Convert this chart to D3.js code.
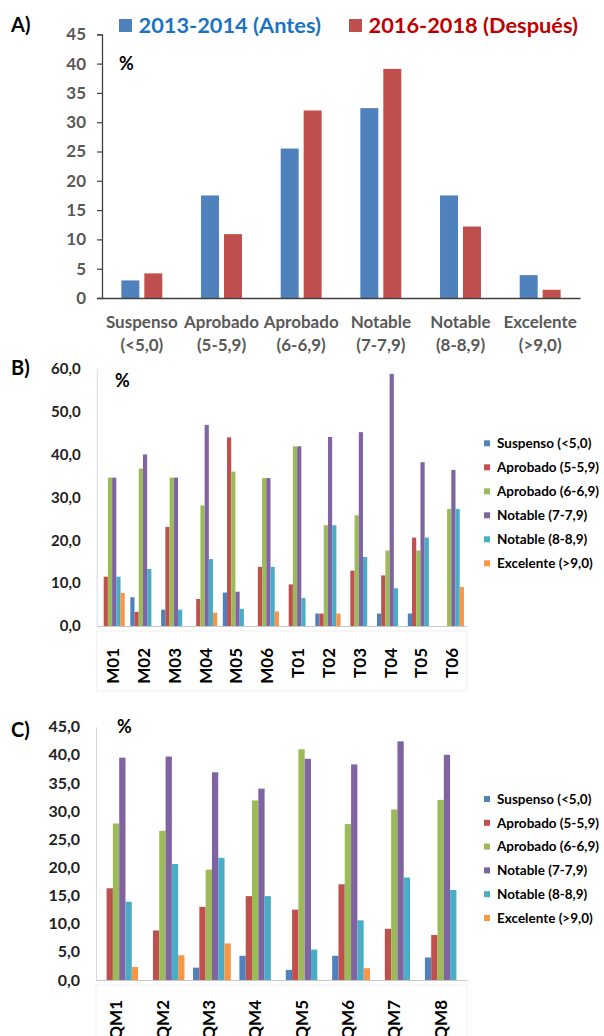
<!DOCTYPE html>
<html><head><meta charset="utf-8">
<script src="https://cdn.jsdelivr.net/npm/d3@7"></script>
<style>
html,body{margin:0;padding:0;background:#fff;}
svg{display:block;font-family:Lato,"Open Sans",sans-serif;font-weight:bold;}
</style></head>
<body>
<svg id="c" width="604" height="1036"></svg>
<script>
// ---------- DATA ----------
const catsA = ["Suspenso (<5,0)","Aprobado (5-5,9)","Aprobado (6-6,9)","Notable (7-7,9)","Notable (8-8,9)","Excelente (>9,0)"];
const seriesA = ["2013-2014 (Antes)","2016-2018 (Después)"];
const antesA   = [3.0, 17.5, 25.5, 32.4, 17.5, 3.9];
const despuesA = [4.2, 10.9, 32.0, 39.1, 12.2, 1.4];
const ticksA = [0,5,10,15,20,25,30,35,40,45];
const tickLabelsA = ["0","5","10","15","20","25","30","35","40","45"];

const gradeSeries = ["Suspenso (<5,0)","Aprobado (5-5,9)","Aprobado (6-6,9)","Notable (7-7,9)","Notable (8-8,9)","Excelente (>9,0)"];

const catsB = ["M01","M02","M03","M04","M05","M06","T01","T02","T03","T04","T05","T06"];
const suspensoB  = [0, 6.7, 3.8, 0, 7.8, 0, 0, 2.9, 0, 2.9, 2.9, 0];
const aprobado5B = [11.5, 3.3, 23.1, 6.3, 44.0, 13.8, 9.7, 2.9, 12.9, 11.8, 20.6, 0];
const aprobado6B = [34.6, 36.7, 34.6, 28.1, 36.0, 34.5, 41.9, 23.5, 25.8, 17.6, 17.6, 27.3];
const notable7B  = [34.6, 40.0, 34.6, 46.9, 8.0, 34.5, 41.9, 44.1, 45.2, 58.8, 38.2, 36.4];
const notable8B  = [11.5, 13.3, 3.8, 15.6, 4.0, 13.8, 6.5, 23.5, 16.1, 8.8, 20.6, 27.3];
const excelenteB = [7.7, 0, 0, 3.1, 0, 3.4, 0, 2.9, 0, 0, 0, 9.1];
const ticksB = [0,10,20,30,40,50,60];
const tickLabelsB = ["0,0","10,0","20,0","30,0","40,0","50,0","60,0"];

const catsC = ["QM1","QM2","QM3","QM4","QM5","QM6","QM7","QM8"];
const suspensoC  = [0, 0, 2.2, 4.3, 1.8, 4.3, 0, 4.0];
const aprobado5C = [16.3, 8.8, 13.0, 14.9, 12.5, 17.0, 9.1, 8.0];
const aprobado6C = [27.8, 26.5, 19.6, 31.9, 41.0, 27.7, 30.3, 32.0];
const notable7C  = [39.5, 39.7, 36.9, 34.0, 39.3, 38.3, 42.4, 40.0];
const notable8C  = [13.9, 20.6, 21.7, 14.9, 5.4, 10.6, 18.2, 16.0];
const excelenteC = [2.3, 4.4, 6.5, 0, 0, 2.1, 0, 0];
const ticksC = [0,5,10,15,20,25,30,35,40,45];
const tickLabelsC = ["0,0","5,0","10,0","15,0","20,0","25,0","30,0","35,0","40,0","45,0"];

// ---------- STYLE ----------
const colA = ["#4f81bd","#c0504d"];
const colA_text = ["#1a73c4","#c00000"];
const colG = ["#4f81bd","#c0504d","#9bbb59","#8064a2","#4bacc6","#f79646"];

const svg = d3.select("#c");

// ================= CHART A =================
(function(){
  const g = svg.append("g");
  const x0 = d3.scaleBand().domain(catsA).range([102,580]).paddingInner(0.486).paddingOuter(0.243);
  const x1 = d3.scaleBand().domain(seriesA).range([0,x0.bandwidth()]).paddingInner(0.217);
  const y = d3.scaleLinear().domain([0,45]).range([298,34.3]);
  const rows = catsA.map((c,i)=>({cat:c, vals:[antesA[i],despuesA[i]]}));

  g.selectAll("g.grp").data(rows).join("g").attr("class","grp")
    .attr("transform",d=>`translate(${x0(d.cat)},0)`)
    .selectAll("rect").data(d=>d.vals.map((v,j)=>({s:seriesA[j],v,j}))).join("rect")
    .attr("x",d=>x1(d.s)).attr("width",x1.bandwidth())
    .attr("y",d=>y(d.v)).attr("height",d=>y(0)-y(d.v))
    .attr("fill",d=>colA[d.j]);

  const ya = g.append("g").attr("transform","translate(102,0)")
    .call(d3.axisLeft(y).tickValues(ticksA).tickFormat((d,i)=>tickLabelsA[i]).tickSize(5).tickPadding(11));
  ya.select(".domain").attr("stroke","#404040").attr("stroke-width",1.3);
  ya.selectAll(".tick line").attr("stroke","#404040").attr("stroke-width",1.2);
  ya.selectAll("text").attr("font-size",17).attr("fill","#595959").attr("font-family","Lato").attr("font-weight","bold");

  const xa = g.append("g").attr("transform","translate(0,298)")
    .call(d3.axisBottom(x0).tickSize(0).tickPadding(0));
  xa.select(".domain").attr("stroke","#404040").attr("stroke-width",1.3);
  xa.selectAll(".tick text").each(function(d){
    const t = d3.select(this); t.text(null);
    const k = d.indexOf(" ");
    t.attr("font-size",17).attr("fill","#595959").attr("font-family","Lato").attr("font-weight","bold").attr("dy",null).attr("y",0);
    t.append("tspan").attr("x",0).attr("y",30).text(d.slice(0,k));
    t.append("tspan").attr("x",0).attr("y",53).text(d.slice(k+1));
  });

  svg.append("text").attr("x",11).attr("y",32).attr("font-size",20).attr("fill","#000").text("A)");
  svg.append("text").attr("x",119).attr("y",70).attr("font-size",18).attr("fill","#000").text("%");

  const lx = [119,349], tx=[138.5,368.5];
  seriesA.forEach((s,j)=>{
    svg.append("rect").attr("x",lx[j]).attr("y",19).attr("width",13).attr("height",13).attr("fill",colA[j]);
    svg.append("text").attr("x",tx[j]).attr("y",33).attr("font-size",21.8).attr("fill",colA_text[j]).text(s);
  });
})();

// ================= grouped chart B / C =================
function grouped(opts){
  const {cats, series, ticks, tickLabels, x0r, y0, yTop, yMax, tickFont, labelTop, labelDx, clipY, letter, letterY, pctY, legendY0, legendStep, pi} = opts;
  const g = svg.append("g");
  const x0 = d3.scaleBand().domain(cats).range(x0r).paddingInner(pi).paddingOuter(pi/2);
  const x1 = d3.scaleBand().domain(gradeSeries).range([0,x0.bandwidth()]);
  const y = d3.scaleLinear().domain([0,yMax]).range([y0,yTop]);

  const ya = g.append("g").attr("transform",`translate(${x0r[0]},0)`)
    .call(d3.axisLeft(y).tickValues(ticks).tickFormat((d,i)=>tickLabels[i]).tickSize(0).tickPadding(16));
  ya.select(".domain").attr("stroke","#d9d9d9").attr("stroke-width",1);
  ya.selectAll("text").attr("font-size",tickFont).attr("fill","#222").attr("font-family","Lato").attr("font-weight","bold");

  const rows = cats.map((c,i)=>({cat:c, vals:series.map(s=>s[i])}));
  g.selectAll("g.grp").data(rows).join("g").attr("class","grp")
    .attr("transform",d=>`translate(${x0(d.cat)},0)`)
    .selectAll("rect").data(d=>d.vals.map((v,j)=>({s:gradeSeries[j],v,j}))).join("rect")
    .attr("x",d=>x1(d.s)).attr("width",x1.bandwidth())
    .attr("y",d=>y(d.v)).attr("height",d=>y(0)-y(d.v))
    .attr("fill",d=>colG[d.j]);

  const xa = g.append("g").attr("transform",`translate(0,${y0})`)
    .call(d3.axisBottom(x0).tickSize(0).tickPadding(0));
  xa.select(".domain").attr("stroke","#c8c8c8").attr("stroke-width",1.2);

  g.append("rect").attr("x",x0r[0]).attr("y",y0+5).attr("width",x0r[1]-x0r[0]).attr("height",opts.boxH)
    .attr("fill","none").attr("stroke","#f0f0f0").attr("stroke-width",1);

  const clipId = "clip"+letter;
  svg.append("clipPath").attr("id",clipId).append("rect").attr("x",0).attr("y",y0).attr("width",604).attr("height",clipY-y0);
  const lab = g.append("g").attr("clip-path",`url(#${clipId})`);
  xa.selectAll(".tick text").remove();
  lab.selectAll("text").data(cats).join("text")
    .attr("transform",d=>`translate(${x0(d)+x0.bandwidth()/2+labelDx},${labelTop}) rotate(-90)`)
    .attr("text-anchor","end").attr("font-size",17).attr("fill","#000").text(d=>d);

  svg.append("text").attr("x",11).attr("y",letterY).attr("font-size",20).attr("fill","#000").text(letter+")");
  svg.append("text").attr("x",opts.pctX).attr("y",pctY).attr("font-size",18).attr("fill","#000").text("%");

  gradeSeries.forEach((s,j)=>{
    const yy = legendY0 + j*legendStep;
    svg.append("rect").attr("x",484).attr("y",yy-3).attr("width",6).attr("height",6).attr("fill",colG[j]);
    svg.append("text").attr("x",497).attr("y",yy).attr("dy","0.35em").attr("font-size",13.5).attr("fill","#000").text(s);
  });
}

grouped({cats:catsB, series:[suspensoB,aprobado5B,aprobado6B,notable7B,notable8B,excelenteB],
  ticks:ticksB, tickLabels:tickLabelsB, x0r:[96.7,466.7], y0:626, yTop:368.7, yMax:60, tickFont:15,
  labelTop:648, labelDx:7, clipY:683, letter:"B", letterY:375, pctX:115, pctY:387,
  legendY0:443.3, legendStep:24, pi:0.18, boxH:60});

grouped({cats:catsC, series:[suspensoC,aprobado5C,aprobado6C,notable7C,notable8C,excelenteC],
  ticks:ticksC, tickLabels:tickLabelsC, x0r:[96,467], y0:980, yTop:726.7, yMax:45, tickFont:16,
  labelTop:1000, labelDx:3, clipY:1036, letter:"C", letterY:737, pctX:117, pctY:733,
  legendY0:799, legendStep:23.8, pi:0.185, boxH:60});
</script>
</body></html>
